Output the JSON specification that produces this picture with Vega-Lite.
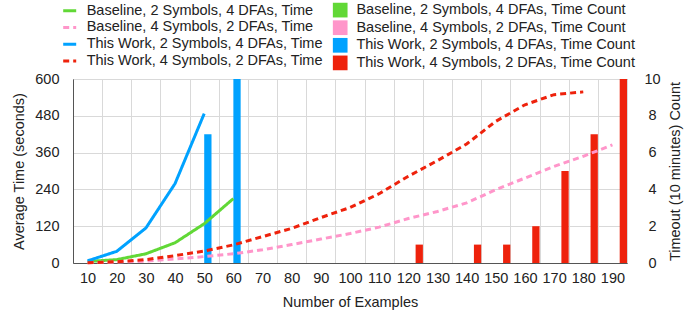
{
  "$schema": "https://vega.github.io/schema/vega-lite/v6.json",
  "width": 554,
  "height": 184,
  "autosize": {"type": "none"},
  "padding": {"left": 73, "top": 79, "right": 70, "bottom": 53},
  "datasets": {
    "lines": [
      {"x": 10, "series": "Baseline, 2 Symbols, 4 DFAs, Time", "time": 5},
      {"x": 20, "series": "Baseline, 2 Symbols, 4 DFAs, Time", "time": 11},
      {"x": 30, "series": "Baseline, 2 Symbols, 4 DFAs, Time", "time": 30},
      {"x": 40, "series": "Baseline, 2 Symbols, 4 DFAs, Time", "time": 66},
      {"x": 50, "series": "Baseline, 2 Symbols, 4 DFAs, Time", "time": 128},
      {"x": 60, "series": "Baseline, 2 Symbols, 4 DFAs, Time", "time": 210},
      {"x": 10, "series": "Baseline, 4 Symbols, 2 DFAs, Time", "time": 1},
      {"x": 20, "series": "Baseline, 4 Symbols, 2 DFAs, Time", "time": 3},
      {"x": 30, "series": "Baseline, 4 Symbols, 2 DFAs, Time", "time": 6},
      {"x": 40, "series": "Baseline, 4 Symbols, 2 DFAs, Time", "time": 13},
      {"x": 50, "series": "Baseline, 4 Symbols, 2 DFAs, Time", "time": 21},
      {"x": 60, "series": "Baseline, 4 Symbols, 2 DFAs, Time", "time": 30},
      {"x": 70, "series": "Baseline, 4 Symbols, 2 DFAs, Time", "time": 43},
      {"x": 80, "series": "Baseline, 4 Symbols, 2 DFAs, Time", "time": 60},
      {"x": 90, "series": "Baseline, 4 Symbols, 2 DFAs, Time", "time": 78},
      {"x": 100, "series": "Baseline, 4 Symbols, 2 DFAs, Time", "time": 96},
      {"x": 110, "series": "Baseline, 4 Symbols, 2 DFAs, Time", "time": 117},
      {"x": 120, "series": "Baseline, 4 Symbols, 2 DFAs, Time", "time": 145},
      {"x": 130, "series": "Baseline, 4 Symbols, 2 DFAs, Time", "time": 168},
      {"x": 140, "series": "Baseline, 4 Symbols, 2 DFAs, Time", "time": 196},
      {"x": 150, "series": "Baseline, 4 Symbols, 2 DFAs, Time", "time": 239},
      {"x": 160, "series": "Baseline, 4 Symbols, 2 DFAs, Time", "time": 277},
      {"x": 170, "series": "Baseline, 4 Symbols, 2 DFAs, Time", "time": 315},
      {"x": 180, "series": "Baseline, 4 Symbols, 2 DFAs, Time", "time": 348},
      {"x": 190, "series": "Baseline, 4 Symbols, 2 DFAs, Time", "time": 385},
      {"x": 10, "series": "This Work, 2 Symbols, 4 DFAs, Time", "time": 7},
      {"x": 20, "series": "This Work, 2 Symbols, 4 DFAs, Time", "time": 38},
      {"x": 30, "series": "This Work, 2 Symbols, 4 DFAs, Time", "time": 114},
      {"x": 40, "series": "This Work, 2 Symbols, 4 DFAs, Time", "time": 259},
      {"x": 50, "series": "This Work, 2 Symbols, 4 DFAs, Time", "time": 487},
      {"x": 10, "series": "This Work, 4 Symbols, 2 DFAs, Time", "time": 1},
      {"x": 20, "series": "This Work, 4 Symbols, 2 DFAs, Time", "time": 4},
      {"x": 30, "series": "This Work, 4 Symbols, 2 DFAs, Time", "time": 11},
      {"x": 40, "series": "This Work, 4 Symbols, 2 DFAs, Time", "time": 24},
      {"x": 50, "series": "This Work, 4 Symbols, 2 DFAs, Time", "time": 39},
      {"x": 60, "series": "This Work, 4 Symbols, 2 DFAs, Time", "time": 59},
      {"x": 70, "series": "This Work, 4 Symbols, 2 DFAs, Time", "time": 86},
      {"x": 80, "series": "This Work, 4 Symbols, 2 DFAs, Time", "time": 113},
      {"x": 90, "series": "This Work, 4 Symbols, 2 DFAs, Time", "time": 148},
      {"x": 100, "series": "This Work, 4 Symbols, 2 DFAs, Time", "time": 181},
      {"x": 110, "series": "This Work, 4 Symbols, 2 DFAs, Time", "time": 226},
      {"x": 120, "series": "This Work, 4 Symbols, 2 DFAs, Time", "time": 283},
      {"x": 130, "series": "This Work, 4 Symbols, 2 DFAs, Time", "time": 334},
      {"x": 140, "series": "This Work, 4 Symbols, 2 DFAs, Time", "time": 388},
      {"x": 150, "series": "This Work, 4 Symbols, 2 DFAs, Time", "time": 462},
      {"x": 160, "series": "This Work, 4 Symbols, 2 DFAs, Time", "time": 516},
      {"x": 170, "series": "This Work, 4 Symbols, 2 DFAs, Time", "time": 549},
      {"x": 180, "series": "This Work, 4 Symbols, 2 DFAs, Time", "time": 558}
    ],
    "bars": [
      {"x": 50, "series": "This Work, 2 Symbols, 4 DFAs, Time Count", "count": 7},
      {"x": 60, "series": "This Work, 2 Symbols, 4 DFAs, Time Count", "count": 10},
      {"x": 120, "series": "This Work, 4 Symbols, 2 DFAs, Time Count", "count": 1},
      {"x": 140, "series": "This Work, 4 Symbols, 2 DFAs, Time Count", "count": 1},
      {"x": 150, "series": "This Work, 4 Symbols, 2 DFAs, Time Count", "count": 1},
      {"x": 160, "series": "This Work, 4 Symbols, 2 DFAs, Time Count", "count": 2},
      {"x": 170, "series": "This Work, 4 Symbols, 2 DFAs, Time Count", "count": 5},
      {"x": 180, "series": "This Work, 4 Symbols, 2 DFAs, Time Count", "count": 7},
      {"x": 190, "series": "This Work, 4 Symbols, 2 DFAs, Time Count", "count": 10}
    ]
  },
  "config": {
    "font": "Liberation Sans",
    "view": {"stroke": "#555555", "strokeWidth": 1},
    "axis": {
      "labelFont": "Liberation Sans",
      "titleFont": "Liberation Sans",
      "labelFontSize": 14.5,
      "titleFontSize": 14.5,
      "titleFontWeight": "normal",
      "labelColor": "#222222",
      "titleColor": "#222222",
      "ticks": false,
      "gridColor": "#d9d9d9",
      "gridWidth": 1,
      "domainColor": "#555555"
    },
    "legend": {
      "labelFont": "Liberation Sans",
      "labelFontSize": 14.5,
      "labelColor": "#222222",
      "labelLimit": 400,
      "padding": 0
    }
  },
  "layer": [
    {
      "data": {"name": "bars"},
      "mark": {"type": "bar"},
      "encoding": {
        "x": {
          "field": "x",
          "type": "ordinal",
          "scale": {"domain": [10,20,30,40,50,60,70,80,90,100,110,120,130,140,150,160,170,180,190], "paddingInner": 0, "paddingOuter": 0},
          "axis": {"title": "Number of Examples", "labelAngle": 0, "grid": true, "tickBand": "extent", "labelPadding": 8, "titleX": 277, "titleY": 39, "titleBaseline": "middle"}
        },
        "xOffset": {
          "field": "series",
          "type": "nominal",
          "scale": {"domain": ["Baseline, 2 Symbols, 4 DFAs, Time Count", "Baseline, 4 Symbols, 2 DFAs, Time Count", "This Work, 2 Symbols, 4 DFAs, Time Count", "This Work, 4 Symbols, 2 DFAs, Time Count"], "paddingInner": 0, "paddingOuter": 0}
        },
        "y": {
          "field": "count",
          "type": "quantitative",
          "scale": {"domain": [0, 10], "nice": false},
          "axis": {"orient": "right", "title": "Timeout (10 minutes) Count", "values": [0,2,4,6,8,10], "grid": false, "labelAlign": "center", "labelPadding": 25, "titleAngle": -90, "titleX": 48, "titleY": 92, "titleBaseline": "middle", "titleAlign": "center", "domain": false}
        },
        "color": {
          "field": "series",
          "type": "nominal",
          "scale": {"domain": ["Baseline, 2 Symbols, 4 DFAs, Time Count", "Baseline, 4 Symbols, 2 DFAs, Time Count", "This Work, 2 Symbols, 4 DFAs, Time Count", "This Work, 4 Symbols, 2 DFAs, Time Count"], "range": ["#61d836", "#ff96ca", "#00a2ff", "#ee220c"]},
          "legend": {"title": null, "orient": "none", "legendX": 259.7, "legendY": -76.4, "symbolType": "square", "symbolSize": 216, "symbolStrokeWidth": 0, "labelOffset": 8.7, "rowPadding": 1.6}
        }
      }
    },
    {
      "data": {"name": "lines"},
      "mark": {"type": "line", "strokeWidth": 3},
      "encoding": {
        "x": {"field": "x", "type": "ordinal"},
        "y": {
          "field": "time",
          "type": "quantitative",
          "scale": {"domain": [0, 600], "nice": false},
          "axis": {"orient": "left", "title": "Average Time (seconds)", "values": [0,120,240,360,480,600], "grid": true, "labelPadding": 14, "titleAngle": -90, "titleX": -54, "titleY": 92, "titleBaseline": "middle", "titleAlign": "center"}
        },
        "color": {
          "field": "series",
          "type": "nominal",
          "scale": {"domain": ["Baseline, 2 Symbols, 4 DFAs, Time", "Baseline, 4 Symbols, 2 DFAs, Time", "This Work, 2 Symbols, 4 DFAs, Time", "This Work, 4 Symbols, 2 DFAs, Time"], "range": ["#61d836", "#ff96ca", "#00a2ff", "#ee220c"]},
          "legend": {"title": null, "orient": "none", "legendX": -11.3, "legendY": -76.3, "symbolType": "stroke", "symbolSize": 169, "symbolStrokeWidth": 3, "labelOffset": 9, "rowPadding": 1.8}
        },
        "strokeDash": {
          "field": "series",
          "type": "nominal",
          "scale": {"domain": ["Baseline, 2 Symbols, 4 DFAs, Time", "Baseline, 4 Symbols, 2 DFAs, Time", "This Work, 2 Symbols, 4 DFAs, Time", "This Work, 4 Symbols, 2 DFAs, Time"], "range": [[1, 0], [6, 4], [1, 0], [6, 4]]},
          "legend": {"title": null, "orient": "none", "legendX": -11.3, "legendY": -76.3, "symbolType": "stroke", "symbolSize": 169, "symbolStrokeWidth": 3, "labelOffset": 9, "rowPadding": 1.8}
        }
      }
    }
  ],
  "resolve": {"scale": {"y": "independent", "color": "independent", "strokeDash": "independent"}}
}
